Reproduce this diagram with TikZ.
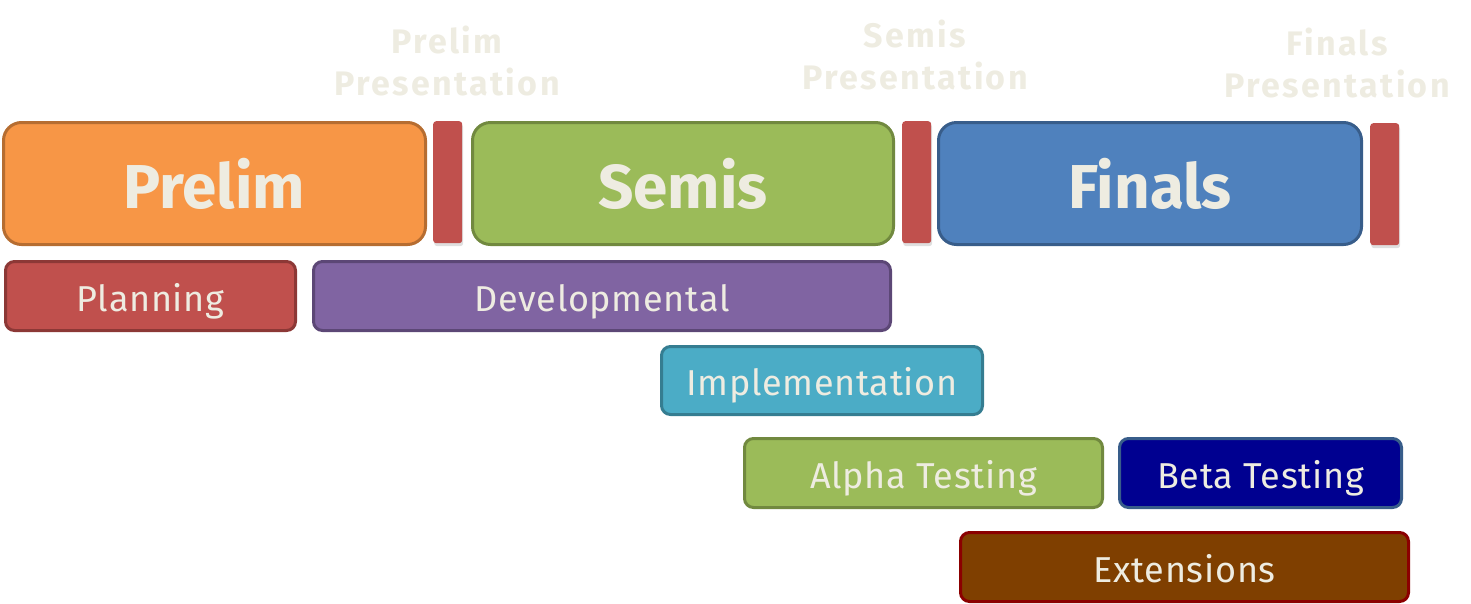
\documentclass[tikz,border=0pt]{standalone}
\usepackage{fontspec}
\setmainfont{Fira Sans}
\usetikzlibrary{shadows}
\definecolor{txt}{HTML}{EEECE1}
\definecolor{orangeF}{HTML}{F79646}\definecolor{orangeD}{HTML}{B66D31}
\definecolor{greenF}{HTML}{9BBB59}\definecolor{greenD}{HTML}{71893F}
\definecolor{blueF}{HTML}{4F81BD}\definecolor{blueD}{HTML}{385D8A}
\definecolor{redF}{HTML}{C0504D}\definecolor{redD}{HTML}{8C3836}
\definecolor{purpF}{HTML}{8064A2}\definecolor{purpD}{HTML}{5C4776}
\definecolor{aquaF}{HTML}{4BACC6}\definecolor{aquaD}{HTML}{357D91}
\definecolor{navyF}{HTML}{000090}
\definecolor{brownF}{HTML}{7F3F00}\definecolor{brownD}{HTML}{8B0000}
\tikzset{
  phase/.style={draw, line width=3pt, rounded corners=18pt, anchor=north west,
    inner sep=0pt, minimum height=122pt, text=txt, text height=50pt, text depth=0pt,
    font=\fontsize{62}{64}\selectfont\bfseries},
  task/.style={draw, line width=3pt, rounded corners=9pt, anchor=north west,
    inner sep=0pt, minimum height=69pt, text=txt, text height=30pt, text depth=0pt,
    font=\fontsize{36}{38}\selectfont\addfontfeatures{LetterSpace=2}},
  milestone/.style={fill=redF, rounded corners=3pt, anchor=north west, inner sep=0pt,
    minimum width=29pt, minimum height=122pt,
    drop shadow={shadow xshift=1pt, shadow yshift=-3pt, opacity=0.25}},
  presentation/.style={text=txt, align=center,
    font=\fontsize{34}{42}\selectfont\bfseries\addfontfeatures{LetterSpace=7}}
}
\begin{document}
\begin{tikzpicture}[x=1pt,y=-1pt]
\useasboundingbox (0,0) rectangle (1471,603);
% phases
\node[phase, fill=orangeF, draw=orangeD, minimum width=422pt] (prelim) at (2,121) {Prelim};
\node[phase, fill=greenF, draw=greenD, minimum width=421pt] (semis) at (471,121) {Semis};
\node[phase, fill=blueF, draw=blueD, minimum width=423pt] (finals) at (937,121) {Finals};
% presentation milestones
\node[milestone] (m1) at (433,121) {};
\node[milestone] (m2) at (902,121) {};
\node[milestone] (m3) at (1370,123) {};
\node[presentation] (p1) at (447,61) {Prelim\\Presentation};
\node[presentation] (p2) at (915,55) {Semis\\Presentation};
\node[presentation] (p3) at (1337,63) {Finals\\Presentation};
% tasks
\node[task, fill=redF, draw=redD, minimum width=290pt] (plan) at (4,260) {Planning};
\node[task, fill=purpF, draw=purpD, minimum width=577pt] (dev) at (312,260) {Developmental};
\node[task, fill=aquaF, draw=aquaD, minimum width=321pt, minimum height=68pt] (impl) at (660,345) {Implementation};
\node[task, fill=greenF, draw=greenD, minimum width=358pt] (alpha) at (743,437) {Alpha Testing};
\node[task, fill=navyF, draw=blueD, minimum width=282pt] (beta) at (1118,437) {Beta Testing};
\node[task, fill=brownF, draw=brownD, minimum width=448pt] (ext) at (959,531) {Extensions};
\end{tikzpicture}
\end{document}
